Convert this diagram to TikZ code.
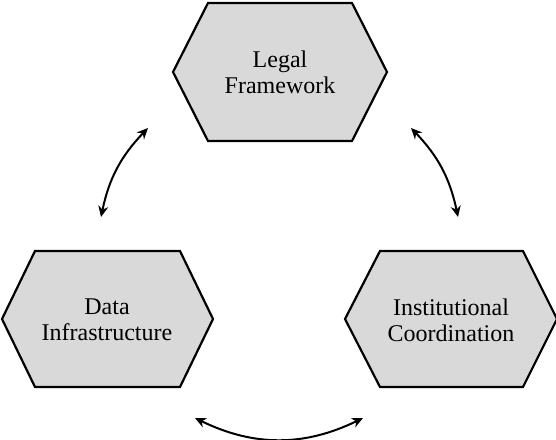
\documentclass[tikz,border=0pt]{standalone}
\usepackage{fontspec}
\setmainfont{Liberation Serif}
\usetikzlibrary{arrows.meta}
\definecolor{hexfill}{RGB}{217,217,217}
\tikzset{
  hexbox/.style={draw=black, line width=2.2pt, fill=hexfill, line join=miter},
  hextext/.style={align=center, font=\fontsize{24}{26}\selectfont, text=black},
  cyc/.style={{Stealth[length=11pt,width=10pt]}-{Stealth[length=11pt,width=10pt]}, line width=2pt},
}
\begin{document}
\begin{tikzpicture}[x=1pt,y=1pt]
\useasboundingbox (0,0) rectangle (556,-439);
% hexagons
\draw[hexbox] (173,-72) -- (208,-3) -- (352,-3) -- (387,-72) -- (352,-141) -- (208,-141) -- cycle;
\draw[hexbox] (2,-319) -- (35,-251) -- (180,-251) -- (213,-319) -- (180,-387) -- (35,-387) -- cycle;
\draw[hexbox] (345,-319) -- (380,-251) -- (523,-251) -- (557,-319) -- (523,-387) -- (380,-387) -- cycle;
% texts
\node[hextext] (legal) at (280,-72) {Legal\\Framework};
\node[hextext] (data) at (107,-320) {Data\\Infrastructure};
\node[hextext] (inst) at (451,-320) {Institutional\\Coordination};
% arrow ends
\coordinate (l1) at (101,-217);
\coordinate (l2) at (148,-128);
\coordinate (r1) at (411,-128);
\coordinate (r2) at (458,-217);
\coordinate (b1) at (195,-418);
\coordinate (b2) at (363,-418);
\draw[cyc] (l1) to[bend left=16] (l2);
\draw[cyc] (r1) to[bend left=16] (r2);
\draw[cyc] (b1) to[bend right=26] (b2);
\end{tikzpicture}
\end{document}
